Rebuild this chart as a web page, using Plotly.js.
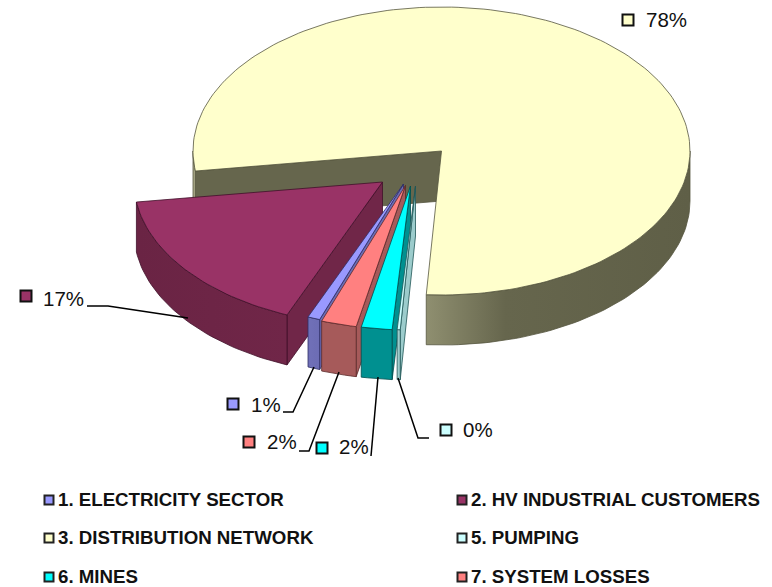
<!DOCTYPE html>
<html>
<head>
<meta charset="utf-8">
<script src="https://cdn.plot.ly/plotly-3.0.1.min.js"></script>
<style>html,body{margin:0;padding:0;background:#fff}#chart{width:772px;height:587px}</style>
</head>
<body>
<div id="chart"></div>
<script>
// ---- data ----
var categories = ['3. DISTRIBUTION NETWORK', '5. PUMPING', '6. MINES', '7. SYSTEM LOSSES', '1. ELECTRICITY SECTOR', '2. HV INDUSTRIAL CUSTOMERS'];
var shares = [78.2, 0.2, 2.0, 2.3, 0.8, 16.5];
var legendOrder = ['1. ELECTRICITY SECTOR', '2. HV INDUSTRIAL CUSTOMERS', '3. DISTRIBUTION NETWORK', '5. PUMPING', '6. MINES', '7. SYSTEM LOSSES'];

// ---- styling ----
var topColors  = ['#FFFFCC', '#CCFFFF', '#00FFFF', '#FF8080', '#9999FF', '#993366'];
var wallColors = ['#66664D', '#9CCCCC', '#009090', '#A65A5A', '#6C6CB4', '#702648'];
var wallLight  = ['#8F8F70', '#9CCCCC', '#009090', '#A65A5A', '#7070B8', '#6A2444'];
var edgeColors = ['#55553F', '#1F5555', '#004C4C', '#5C2A2A', '#2E2E66', '#40102A'];

// ---- projection of the tilted pie, in page pixels ----
var CX = 441.5, CY = 151, RX = 248.5, RY = 144, DEPTH = 50, START_DEG = 172;
var sliceDX = [0, -26, -31, -36, -38, -59];
var sliceDY = [0, 35, 35, 34.5, 33, 31];
var leaderLines = {
  '2. HV INDUSTRIAL CUSTOMERS': [[87, 306], [108, 306], [188, 318]],
  '1. ELECTRICITY SECTOR': [[283, 412], [293, 412], [314, 367]],
  '7. SYSTEM LOSSES': [[299, 451], [309, 451], [339, 372]],
  '6. MINES': [[371, 456], [378, 377]],
  '5. PUMPING': [[429, 438], [418, 438], [398, 378]]
};
var labelPos = {
  '3. DISTRIBUTION NETWORK': [628, 20, 646, 22],
  '2. HV INDUSTRIAL CUSTOMERS': [26, 296, 43, 301],
  '1. ELECTRICITY SECTOR': [233, 404, 251, 407],
  '7. SYSTEM LOSSES': [249, 442, 267, 444],
  '6. MINES': [322, 448, 339, 449],
  '5. PUMPING': [446, 430, 463, 432]
};
var legendCols = [49, 462], legendRows = [500, 538, 577], legendTextOffset = 9;

var traces = [];
function rad(d) { return d * Math.PI / 180; }
function pt(i, d, dz) {
  return [CX + sliceDX[i] + RX * Math.cos(rad(d)), CY + sliceDY[i] + RY * Math.sin(rad(d)) + (dz || 0)];
}
function poly(points, fill, edge, grad) {
  var t = {
    type: 'scatter', mode: 'lines', hoverinfo: 'skip', showlegend: false,
    x: points.map(function (p) { return p[0]; }),
    y: points.map(function (p) { return p[1]; }),
    fill: 'toself', fillcolor: fill,
    line: { color: edge, width: 0.8 }
  };
  if (grad) t.fillgradient = { type: 'horizontal', colorscale: grad };
  traces.push(t);
}
function arc(i, a, b, dz) {
  var out = [], n = Math.max(2, Math.ceil(Math.abs(b - a) / 1.5));
  for (var k = 0; k <= n; k++) out.push(pt(i, a + (b - a) * k / n, dz));
  return out;
}
function frontWall(i, a, b) {
  // draw outer rim only where it faces the viewer (sin > 0)
  var ranges = [];
  for (var base = 0; base <= 720; base += 360) {
    var lo = Math.max(a, base), hi = Math.min(b, base + 180);
    if (hi > lo) ranges.push([lo, hi]);
  }
  ranges.forEach(function (r) {
    var pts = arc(i, r[0], r[1], 0).concat(arc(i, r[1], r[0], DEPTH));
    pts.push(pts[0]);
    var grad = null;
    if (i === 0 && r[1] - r[0] > 30) grad = [[0, wallLight[0]], [0.3, '#66664D'], [1, '#5F5F47']];
    else if (i === 0) grad = null;
    else grad = [[0, wallLight[i]], [1, wallColors[i]]];
    poly(pts, (i === 0 && !grad) ? '#A8A888' : wallColors[i], edgeColors[i], grad);
  });
}
function radialWall(i, d) {
  var a = [CX + sliceDX[i], CY + sliceDY[i]], c = pt(i, d, 0);
  poly([a, c, [c[0], c[1] + DEPTH], [a[0], a[1] + DEPTH], a], wallColors[i], edgeColors[i]);
}
function topFace(i, a, b) {
  var apex = [CX + sliceDX[i], CY + sliceDY[i]];
  poly([apex].concat(arc(i, a, b, 0)).concat([apex]), topColors[i], edgeColors[i]);
}

var total = shares.reduce(function (s, v) { return s + v; }, 0);
var spans = [], cur = START_DEG;
shares.forEach(function (v) { var e = cur + v / total * 360; spans.push([cur, e]); cur = e; });
spans = spans.map(function (s, i) { return i === 0 ? s : [s[0] - 360, s[1] - 360]; });

// painter's order: main slice, then exploded slices from left to right
[0, 5, 4, 3, 2, 1].forEach(function (i) {
  var a = spans[i][0], b = spans[i][1];
  radialWall(i, a);
  frontWall(i, a, b);
  topFace(i, a, b);
});

// leader lines
Object.keys(leaderLines).forEach(function (k) {
  var l = leaderLines[k];
  traces.push({
    type: 'scatter', mode: 'lines', hoverinfo: 'skip', showlegend: false,
    x: l.map(function (p) { return p[0]; }), y: l.map(function (p) { return p[1]; }),
    line: { color: '#000', width: 1.5 }
  });
});

// percentage labels with their keys
categories.forEach(function (c, i) {
  var p = labelPos[c];
  traces.push({
    type: 'scatter', mode: 'markers', hoverinfo: 'skip', showlegend: false,
    x: [p[0]], y: [p[1]],
    marker: { symbol: 'square', size: 11, color: topColors[i], line: { color: '#111', width: 2 } }
  });
  traces.push({
    type: 'scatter', mode: 'text', hoverinfo: 'skip', showlegend: false,
    x: [p[2]], y: [p[3]], text: [Math.round(shares[i]) + '%'], textposition: 'middle right',
    textfont: { family: 'Liberation Sans, Arial, sans-serif', size: 20.5, color: '#111' }
  });
});

// legend block
legendOrder.forEach(function (c, n) {
  var col = legendCols[n % 2], row = legendRows[Math.floor(n / 2)];
  traces.push({
    type: 'scatter', mode: 'markers', hoverinfo: 'skip', showlegend: false,
    x: [col], y: [row],
    marker: { symbol: 'square', size: 9, color: topColors[categories.indexOf(c)], line: { color: '#222', width: 2 } }
  });
  traces.push({
    type: 'scatter', mode: 'text', hoverinfo: 'skip', showlegend: false,
    x: [col + legendTextOffset], y: [row + 1], text: ['<b>' + c + '</b>'], textposition: 'middle right',
    textfont: { family: 'Liberation Sans, Arial, sans-serif', size: 18.7, color: '#111' }
  });
});

var layout = {
  width: 772, height: 587,
  margin: { l: 0, r: 0, t: 0, b: 0 },
  paper_bgcolor: '#fff', plot_bgcolor: '#fff',
  showlegend: false,
  xaxis: { range: [0, 772], visible: false, fixedrange: true },
  yaxis: { range: [587, 0], visible: false, fixedrange: true }
};
Plotly.newPlot('chart', traces, layout, { displayModeBar: false, staticPlot: true });
</script>
</body>
</html>
